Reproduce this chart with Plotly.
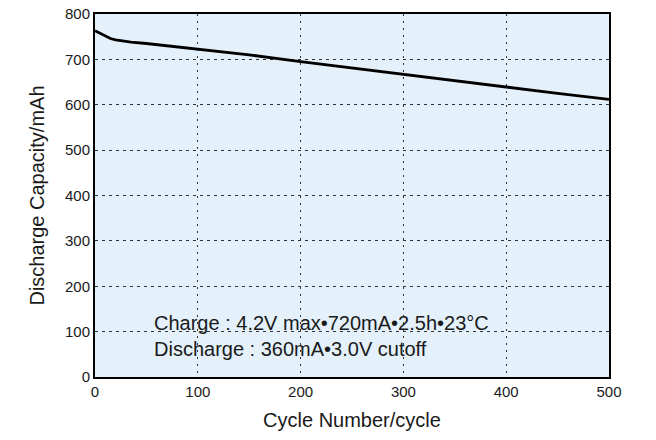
import plotly.graph_objects as go

cycles = [0, 5, 10, 15, 20, 25, 35, 50, 75, 100, 150, 200, 250, 300, 350, 400, 450, 500]
capacity = [763, 757, 751, 746, 743, 741, 738, 735, 729, 722, 710, 695, 681, 667, 653, 638, 625, 612]

x_ticks = [0, 100, 200, 300, 400, 500]
y_ticks = [0, 100, 200, 300, 400, 500, 600, 700, 800]

note_lines = ["Charge : 4.2V max\u2022720mA\u20222.5h\u202223\u00b0C",
              "Discharge : 360mA\u20223.0V cutoff"]

tick_font = dict(family="Liberation Sans, Arial, Helvetica", size=15, color="#1a1a1a")
label_font = dict(family="Liberation Sans, Arial, Helvetica", size=20, color="#1a1a1a")

fig = go.Figure()
fig.add_trace(go.Scatter(x=cycles, y=capacity, mode="lines",
                         line=dict(color="black", width=2.8),
                         showlegend=False, hoverinfo="skip"))

fig.update_layout(
    width=656, height=440,
    margin=dict(l=95, r=47, t=14, b=63),
    paper_bgcolor="white",
    plot_bgcolor="#e4f1fb",
    font=label_font,
    annotations=[dict(
        text="<br>".join(note_lines),
        xref="paper", yref="paper", x=0.11, y=0.114,
        xanchor="left", yanchor="middle", align="left",
        showarrow=False, font=dict(family="Liberation Sans, Arial", size=20, color="#1a1a1a"))],
)

fig.update_xaxes(
    range=[0, 500], tickvals=x_ticks, ticks="", tickfont=tick_font,
    showline=True, linecolor="black", linewidth=2, mirror=True,
    showgrid=True, gridcolor="#333333", gridwidth=1, griddash="2px,5px",
    zeroline=False, automargin=False,
    title=dict(text="Cycle Number/cycle", font=label_font, standoff=14),
)
fig.update_yaxes(
    range=[0, 800], tickvals=y_ticks, ticks="", tickfont=tick_font,
    showline=True, linecolor="black", linewidth=2, mirror=True,
    showgrid=True, gridcolor="#333333", gridwidth=1, griddash="3px,4px",
    zeroline=False, automargin=False,
    title=dict(text="Discharge Capacity/mAh", font=label_font, standoff=15),
)

fig.write_html("out.html", config={"displayModeBar": False},
               post_script="document.body.style.margin='0';")
